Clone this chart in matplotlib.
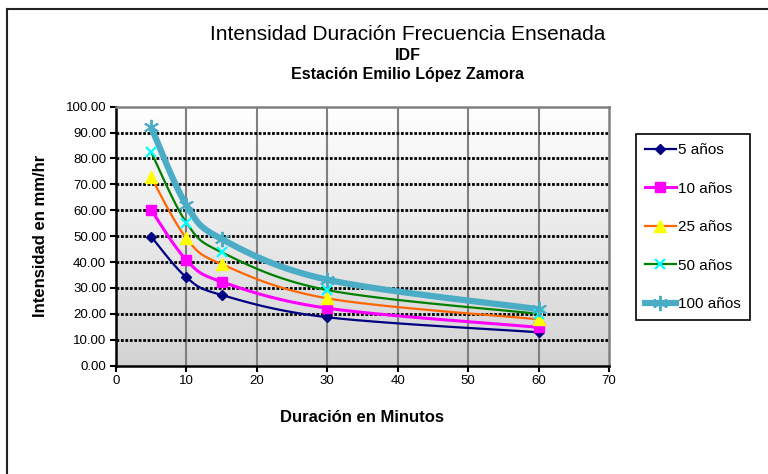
import matplotlib
matplotlib.use("Agg")
import matplotlib.pyplot as plt
import numpy as np
from matplotlib.colors import LinearSegmentedColormap

plt.rcParams['font.family'] = ['Liberation Sans', 'DejaVu Sans']

# Data
duracion = [5, 10, 15, 30, 60]
i_5 = [49.8, 34.1, 27.3, 18.7, 12.9]
i_10 = [60.1, 40.8, 32.4, 22.2, 14.8]
i_25 = [72.7, 49.2, 39.2, 26.0, 17.9]
i_50 = [82.4, 55.2, 43.8, 29.2, 20.0]
i_100 = [92.0, 62.0, 48.9, 33.2, 21.8]
etiquetas = ['5 años', '10 años', '25 años', '50 años', '100 años']

XMAX, YMAX = 70, 100
# approx pixel scale, used so the smoothing looks like the spreadsheet one
SX, SY = 7.03, 2.59


def suavizar(x, y, n=30):
    # Catmull-Rom / Bezier smoothing between the given points (drawn in screen units)
    p = np.column_stack([np.array(x) * SX, np.array(y) * SY])
    p = np.vstack([p[0], p, p[-1]])
    out = []
    t = np.linspace(0, 1, n)[:, None]
    for k in range(1, len(p) - 2):
        p0, p1, p2, p3 = p[k - 1], p[k], p[k + 1], p[k + 2]
        c1 = p1 + (p2 - p0) / 6
        c2 = p2 - (p3 - p1) / 6
        seg = ((1 - t) ** 3) * p1 + 3 * ((1 - t) ** 2) * t * c1 + 3 * (1 - t) * t ** 2 * c2 + t ** 3 * p2
        out.append(seg if k == 1 else seg[1:])
    out = np.vstack(out)
    return out[:, 0] / SX, out[:, 1] / SY


fig = plt.figure(figsize=(7.68, 4.74), dpi=100)
ax = fig.add_axes([0.151, 0.2285, 0.642, 0.5465])

# gradient plot area
grad = LinearSegmentedColormap.from_list('g', ['#d3d3d3', '#ffffff'])
ax.imshow(np.linspace(0, 1, 256)[:, None], extent=[0, XMAX, 0, YMAX], origin='lower',
          aspect='auto', cmap=grad, zorder=0)

series = [
    (i_5, dict(color='#000080', lw=1.6), dict(marker='D', ms=5.5, mfc='#000080', mec='#000080')),
    (i_10, dict(color='#ff00ff', lw=2.2), dict(marker='s', ms=7, mfc='#ff00ff', mec='#ff00ff')),
    (i_25, dict(color='#ff6600', lw=1.6), dict(marker='^', ms=8, mfc='#ffff00', mec='#ffff00')),
    (i_50, dict(color='#008000', lw=1.6), dict(marker='x', ms=7, mec='#00ffff', mew=1.6)),
    (i_100, dict(color='#4bacc6', lw=4.5), dict(marker=(6, 2, 0), ms=11, mec='#4bacc6', mew=1.4)),
]

handles = []
for (vals, lkw, mkw), lab in zip(series, etiquetas):
    xs, ys = suavizar(duracion, vals)
    ax.plot(xs, ys, zorder=3, solid_capstyle='round', **lkw)
    ax.plot(duracion, vals, ls='none', zorder=4, **mkw)
    h, = ax.plot([], [], label=lab, **lkw, **mkw)
    handles.append(h)

ax.set_xlim(0, XMAX)
ax.set_ylim(0, YMAX)
ax.set_xticks(range(0, 71, 10))
ax.set_yticks(range(0, 101, 10))
ax.set_yticklabels(['%.2f' % v for v in range(0, 101, 10)])
ax.tick_params(labelsize=9.5, direction='out', length=4, width=1.5, pad=3)

for v in range(10, 70, 10):
    ax.axvline(v, color='#808080', lw=1.5, zorder=1)
for v in range(10, 100, 10):
    ax.axhline(v, color='black', lw=2, ls=(0, (1, 0.6)), zorder=1)

for s in ['left', 'bottom']:
    ax.spines[s].set_color('black')
    ax.spines[s].set_linewidth(1.8)
for s in ['top', 'right']:
    ax.spines[s].set_color('#808080')
    ax.spines[s].set_linewidth(1.8)

ax.set_xlabel('Duración en Minutos', fontsize=12, fontweight='bold', labelpad=16)
ax.set_ylabel('Intensidad en mm/hr', fontsize=12, fontweight='bold', labelpad=13)

fig.text(0.531, 0.928, 'Intensidad Duración Frecuencia Ensenada', ha='center', va='center', fontsize=15)
fig.text(0.531, 0.882, 'IDF', ha='center', va='center', fontsize=11.5, fontweight='bold')
fig.text(0.531, 0.842, 'Estación Emilio López Zamora', ha='center', va='center', fontsize=11.5,
         fontweight='bold')

leg = fig.legend(handles=handles, loc='upper left', bbox_to_anchor=(0.828, 0.717), fontsize=11,
                 frameon=True, fancybox=False, framealpha=1, edgecolor='black',
                 handlelength=2.0, handletextpad=0.15, labelspacing=1.6, borderpad=0.6,
                 borderaxespad=0)
leg.get_frame().set_linewidth(1.2)

# outer chart border (left and top only visible in the crop)
fig.add_artist(plt.Line2D([0.009, 0.009], [0, 0.981], color='#222222', lw=1.5))
fig.add_artist(plt.Line2D([0.009, 1], [0.981, 0.981], color='#222222', lw=1.5))

fig.savefig('out.png', dpi=100)
